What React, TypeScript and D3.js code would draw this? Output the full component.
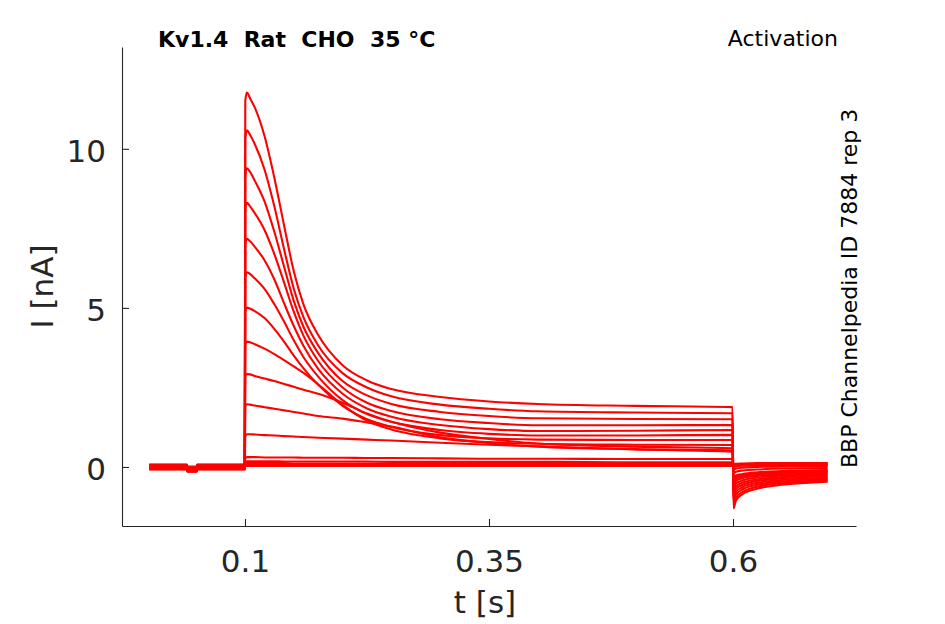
import React from "react";
import * as d3 from "d3";

// sample times [s] of the three protocol phases
const TIME_PRE = [0.002, 0.0405, 0.041, 0.0505, 0.051, 0.0998];
const TIME_STEP = [0.1003, 0.102, 0.105, 0.11, 0.12, 0.13, 0.14, 0.15, 0.16, 0.175, 0.2, 0.225, 0.25, 0.3, 0.35, 0.4, 0.5, 0.5995];
const TIME_TAIL = [0.6005, 0.603, 0.61, 0.625, 0.65, 0.697];

// holding current before the step [nA], one per sweep, plus the small notch
const PRE_LEVEL = [0.07, -0.06, 0.03, -0.02, 0.08, -0.08, 0.0, 0.05, -0.04, 0.02, -0.07, 0.06, -0.01, 0.04, -0.05, 0.01];
const PRE_NOTCH = [0, 0, -0.07, -0.07, 0, 0];

// current during the test pulse [nA]
const STEP_CURRENT = [
    [11.5, 11.77, 11.6, 11.3, 10.4, 9.1, 7.6, 6.15, 5.1, 4.15, 3.2, 2.72, 2.45, 2.2, 2.06, 1.98, 1.92, 1.88],
    [10.3, 10.58, 10.45, 10.15, 9.35, 8.2, 6.85, 5.6, 4.7, 3.82, 2.95, 2.5, 2.22, 1.96, 1.83, 1.75, 1.71, 1.69],
    [9.15, 9.39, 9.28, 9.0, 8.35, 7.4, 6.3, 5.22, 4.4, 3.58, 2.7, 2.25, 1.98, 1.73, 1.6, 1.53, 1.51, 1.5],
    [8.1, 8.3, 8.2, 7.98, 7.45, 6.7, 5.8, 4.88, 4.12, 3.33, 2.5, 2.02, 1.76, 1.5, 1.38, 1.31, 1.31, 1.32],
    [7.0, 7.17, 7.1, 6.92, 6.5, 5.9, 5.15, 4.43, 3.8, 3.08, 2.3, 1.84, 1.58, 1.32, 1.19, 1.13, 1.14, 1.16],
    [5.95, 6.12, 6.07, 5.93, 5.6, 5.12, 4.57, 3.98, 3.45, 2.84, 2.1, 1.66, 1.42, 1.16, 1.04, 0.99, 0.99, 1.01],
    [4.88, 5.01, 4.98, 4.9, 4.68, 4.34, 3.94, 3.5, 3.1, 2.58, 1.92, 1.5, 1.26, 1.0, 0.9, 0.86, 0.85, 0.85],
    [3.85, 3.94, 3.92, 3.86, 3.72, 3.55, 3.36, 3.16, 2.96, 2.6, 1.95, 1.45, 1.18, 0.9, 0.78, 0.73, 0.7, 0.69],
    [2.88, 2.92, 2.91, 2.86, 2.78, 2.7, 2.61, 2.52, 2.43, 2.3, 2.02, 1.68, 1.42, 1.08, 0.88, 0.74, 0.64, 0.59],
    [1.9, 1.97, 1.96, 1.93, 1.88, 1.83, 1.78, 1.73, 1.68, 1.6, 1.52, 1.4, 1.27, 0.93, 0.75, 0.64, 0.56, 0.52],
    [0.95, 1.03, 1.03, 1.02, 1.0, 0.99, 0.97, 0.96, 0.94, 0.92, 0.89, 0.86, 0.83, 0.76, 0.7, 0.65, 0.55, 0.48],
    [0.27, 0.31, 0.31, 0.31, 0.3, 0.3, 0.3, 0.3, 0.29, 0.29, 0.29, 0.28, 0.28, 0.27, 0.26, 0.26, 0.25, 0.25],
    [0.16, 0.18, 0.18, 0.18, 0.18, 0.18, 0.17, 0.17, 0.17, 0.17, 0.17, 0.17, 0.16, 0.16, 0.16, 0.16, 0.15, 0.15],
    [0.1, 0.12, 0.12, 0.12, 0.12, 0.12, 0.12, 0.11, 0.11, 0.11, 0.11, 0.11, 0.11, 0.11, 0.1, 0.1, 0.1, 0.1],
    [0.06, 0.07, 0.07, 0.07, 0.07, 0.07, 0.07, 0.07, 0.07, 0.07, 0.07, 0.07, 0.07, 0.07, 0.07, 0.07, 0.06, 0.06],
    [0.03, 0.03, 0.03, 0.03, 0.03, 0.03, 0.03, 0.03, 0.03, 0.03, 0.03, 0.03, 0.03, 0.03, 0.03, 0.03, 0.03, 0.03]
];

// tail current after stepping back [nA]
const TAIL_CURRENT = [
    [-1.3, -1.05, -0.85, -0.68, -0.56, -0.46],
    [-1.18, -0.96, -0.78, -0.62, -0.51, -0.42],
    [-1.06, -0.87, -0.7, -0.56, -0.46, -0.38],
    [-0.95, -0.78, -0.63, -0.5, -0.41, -0.34],
    [-0.84, -0.69, -0.56, -0.44, -0.36, -0.3],
    [-0.74, -0.61, -0.49, -0.39, -0.32, -0.26],
    [-0.64, -0.52, -0.42, -0.33, -0.27, -0.22],
    [-0.54, -0.44, -0.35, -0.28, -0.23, -0.18],
    [-0.46, -0.37, -0.3, -0.24, -0.19, -0.15],
    [-0.4, -0.32, -0.26, -0.2, -0.16, -0.12],
    [-0.34, -0.27, -0.22, -0.17, -0.13, -0.1],
    [-0.2, -0.15, -0.11, -0.08, -0.05, -0.03],
    [-0.08, -0.05, -0.02, 0.0, 0.02, 0.03],
    [0.0, 0.02, 0.04, 0.05, 0.06, 0.06],
    [0.05, 0.07, 0.08, 0.09, 0.1, 0.1],
    [0.08, 0.1, 0.11, 0.12, 0.12, 0.12]
];

const X_TICKS = [0.1, 0.35, 0.6];
const X_TICK_LABELS = ["0.1", "0.35", "0.6"];
const Y_TICKS = [0, 5, 10];
const Y_TICK_LABELS = ["0", "5", "10"];

const TITLE = "Kv1.4  Rat  CHO  35 °C";
const PROTOCOL = "Activation";
const SOURCE = "BBP Channelpedia ID 7884 rep 3";

type T_Point = [number, number];

class TraceChart extends React.PureComponent {
    static defaultProps = {
        width:        945,
        height:       624,
        marginTop:    47,
        marginRight:  89,
        marginBottom: 98,
        marginLeft:   122,
        tickSize:     7,
        font:         "DejaVu Sans, sans-serif",
        axisColor:    "#262626"
    };

    svgRef = React.createRef<SVGSVGElement>();

    componentDidMount() {
        this.drawChart();
    }

    render(): JSX.Element {
        const { width, height } = TraceChart.defaultProps;
        return (
            <svg
                ref={this.svgRef}
                width={width}
                height={height}
                style={{ position: "absolute", left: 0, top: 0, background: "#fff" }}
            />
        );
    }

    drawChart = () => {
        const {
            width, height, marginTop, marginRight, marginBottom, marginLeft,
            tickSize, font, axisColor
        } = TraceChart.defaultProps;

        const svg = d3.select(this.svgRef.current);
        svg.selectAll("*").remove();

        const x = d3.scaleLinear()
            .domain([-0.026, 0.726])
            .range([marginLeft, width - marginRight]);

        const y = d3.scaleLinear()
            .domain([-1.855, 13.2])
            .range([height - marginBottom, marginTop]);

        /* SWEEPS */
        const line = d3.line<T_Point>()
            .x(d => x(d[0]))
            .y(d => y(d[1]))
            .curve(d3.curveMonotoneX);

        const sweeps: T_Point[][] = STEP_CURRENT.map((step, i) => [
            ...TIME_PRE.map((t, j) => [t, PRE_LEVEL[i] + PRE_NOTCH[j]] as T_Point),
            ...TIME_STEP.map((t, j) => [t, step[j]] as T_Point),
            ...TIME_TAIL.map((t, j) => [t, TAIL_CURRENT[i][j]] as T_Point)
        ]);

        svg.append("g")
            .selectAll("path")
            .data(sweeps)
            .join("path")
            .attr("d", d => line(d))
            .attr("fill", "none")
            .attr("stroke", "#ff0000")
            .attr("stroke-width", 2.1)
            .attr("stroke-linejoin", "round");

        /* AXES */
        svg.append("g")
            .attr("transform", `translate(0,${height - marginBottom})`)
            .call(
                d3.axisBottom(x)
                    .tickValues(X_TICKS)
                    .tickFormat((_, i) => X_TICK_LABELS[i])
                    .tickSizeInner(-tickSize)
                    .tickSizeOuter(0)
                    .tickPadding(24)
            )
            .call(g => g.selectAll("text").attr("font-size", 31).attr("fill", axisColor))
            .call(g => g.selectAll("line, path").attr("stroke", axisColor).attr("stroke-width", 1.1))
            .attr("font-family", font);

        svg.append("g")
            .attr("transform", `translate(${marginLeft},0)`)
            .call(
                d3.axisLeft(y)
                    .tickValues(Y_TICKS)
                    .tickFormat((_, i) => Y_TICK_LABELS[i])
                    .tickSizeInner(-tickSize)
                    .tickSizeOuter(0)
                    .tickPadding(16)
            )
            .call(g => g.selectAll("text").attr("font-size", 31).attr("dy", "0.41em").attr("fill", axisColor))
            .call(g => g.selectAll("line, path").attr("stroke", axisColor).attr("stroke-width", 1.1))
            .attr("font-family", font);

        /* LABELS */
        svg.append("text")
            .attr("x", 485)
            .attr("y", 613)
            .attr("text-anchor", "middle")
            .attr("font-family", font)
            .attr("font-size", 31)
            .attr("fill", axisColor)
            .text("t [s]");

        svg.append("text")
            .attr("transform", `translate(52.5,${(marginTop + height - marginBottom) / 2}) rotate(-90)`)
            .attr("text-anchor", "middle")
            .attr("font-family", font)
            .attr("font-size", 31)
            .attr("fill", axisColor)
            .text("I [nA]");

        svg.append("text")
            .attr("x", 158)
            .attr("y", 46.5)
            .attr("font-family", font)
            .attr("font-size", 22)
            .attr("font-weight", "bold")
            .attr("fill", "#000")
            .style("white-space", "pre")
            .text(TITLE);

        svg.append("text")
            .attr("x", 838)
            .attr("y", 46)
            .attr("text-anchor", "end")
            .attr("font-family", font)
            .attr("font-size", 22)
            .attr("fill", "#000")
            .text(PROTOCOL);

        svg.append("text")
            .attr("transform", "translate(857,468) rotate(-90)")
            .attr("font-family", font)
            .attr("font-size", 22)
            .attr("fill", "#000")
            .text(SOURCE);
    };
}

export default function App() {
    return <TraceChart />;
}
